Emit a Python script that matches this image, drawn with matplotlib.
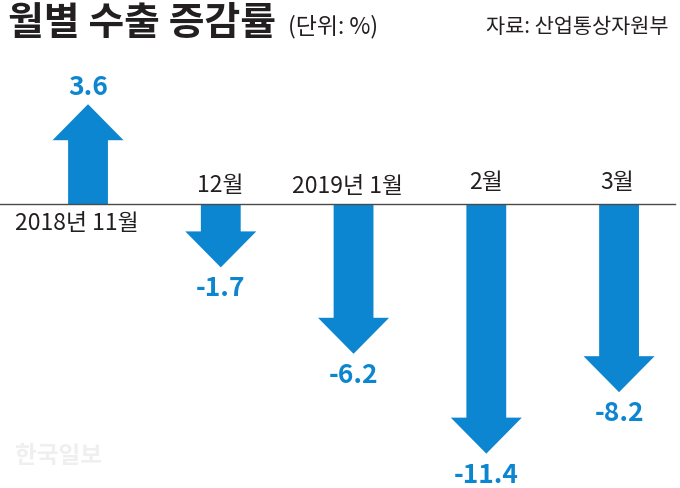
import numpy as np
import matplotlib
matplotlib.use("Agg")
import matplotlib.pyplot as plt

plt.rcParams['font.family'] = ['Noto Sans CJK KR', 'DejaVu Sans']

# data
months = ["2018년 11월", "12월", "2019년 1월", "2월", "3월"]
values = [3.6, -1.7, -6.2, -11.4, -8.2]

title = "월별 수출 증감률"
unit = "(단위: %)"
source = "자료: 산업통상자원부"

BLUE = "#0c86d0"
TEXT = "#231f20"
OFFSET = 1.6  # arrows start with a fixed stub before scaling with the value

fig = plt.figure(figsize=(6.8, 4.89), dpi=100)
ax = fig.add_axes([0, 0, 1, 1])
ax.set_xlim(-0.663, 4.459)
ax.set_ylim(-14.79, 10.68)
ax.axis("off")

ax.axhline(0, xmin=0, xmax=675 / 680, color="#4a4a4a", lw=1.0)

# label offsets in points (dx, dy) relative to the baseline for each month
cat_off = [(-8, -13), (0, 14), (-4, 13), (0, 16), (-1, 16)]

for i, v in enumerate(values):
    tip = np.sign(v) * (abs(v) + OFFSET)
    ax.arrow(i, 0, 0, tip, width=0.30, head_width=0.535, head_length=1.875,
             length_includes_head=True, color=BLUE, lw=0)
    va = "bottom" if v > 0 else "top"
    dy = 3 if v > 0 else -5
    ax.annotate(f"{v:.1f}", (i, tip), xytext=(0, dy), textcoords="offset points",
                ha="center", va=va, fontsize=19, fontweight="bold", color=BLUE)
    ax.annotate(months[i], (i, 0), xytext=cat_off[i], textcoords="offset points",
                ha="center", va="center", fontsize=16.5, color=TEXT)

fig.text(8 / 680, 1 - 23 / 489, title, fontsize=28, fontweight="bold",
         color=TEXT, ha="left", va="center")
fig.text(288 / 680, 1 - 27 / 489, unit, fontsize=16.5, color=TEXT,
         ha="left", va="center")
fig.text(669 / 680, 1 - 27 / 489, source, fontsize=15, color=TEXT,
         ha="right", va="center")
fig.text(15 / 680, 1 - 456 / 489, "한국일보", fontsize=17, fontweight="bold",
         color="#efefef", ha="left", va="center")

fig.savefig("out.png", dpi=100)
